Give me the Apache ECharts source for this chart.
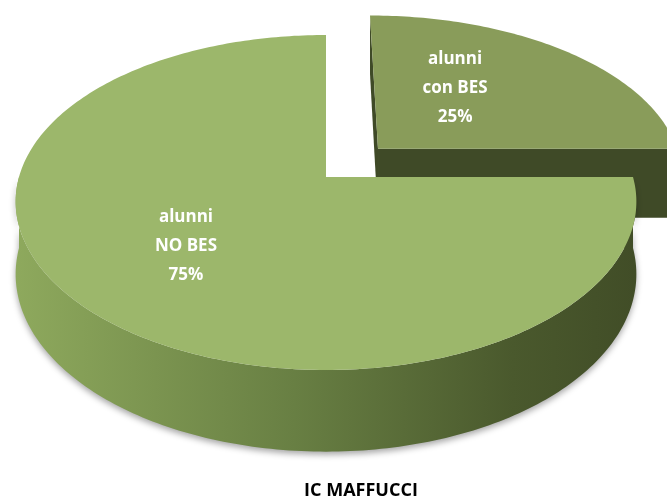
<!DOCTYPE html>
<html>
<head>
<meta charset="utf-8">
<script src="https://cdn.jsdelivr.net/npm/echarts@6/dist/echarts.min.js"></script>
<style>
  html, body { margin: 0; padding: 0; background: #fff; }
  #main { width: 667px; height: 504px; }
</style>
</head>
<body>
<div id="main"></div>
<script>
// dati
const categories = ['alunni\ncon BES', 'alunni\nNO BES'];
const values = [25, 75];
const chartTitle = 'IC MAFFUCCI';

// geometria della torta "3D" (px)
const CX = 326, CY = 177, RX = 307, H = 71;
const UP_A = 167.5, UP_B = -25.5, PERSP = 0.15;
const START_ANGLE = 90;
const explode = [0.246, 0];
const labelPlace = [[10, 0.5], [-3, 0.58]]; // [spostamento angolo, raggio]
const topColors = ['#899c5a', '#9cb76b'];
const cutColor = '#3f4a27';

// u: orizzontale, v: profondita (v>0 verso il fondo), d: 0 sopra, 1 sotto
function proj(u, v, d) {
  const s = 1 - PERSP * v;
  return [CX + RX * u * s, CY - (UP_A * v + UP_B * v * v) + H * s * d];
}

const total = values.reduce((a, b) => a + b, 0);

function renderItem(params, api) {
  const i = params.dataIndex;
  let before = 0;
  for (let k = 0; k < i; k++) before += values[k];
  const a1 = START_ANGLE - 360 * before / total;
  const a2 = a1 - 360 * values[i] / total;
  const midDeg = (a1 + a2) / 2;
  const mid = midDeg * Math.PI / 180;
  const ou = explode[i] * Math.cos(mid), ov = explode[i] * Math.sin(mid);
  const pt = (r, deg, d) => {
    const t = deg * Math.PI / 180;
    return proj(ou + r * Math.cos(t), ov + r * Math.sin(t), d);
  };
  const n = Math.max(2, Math.ceil(a1 - a2));
  const angles = [];
  for (let k = 0; k <= n; k++) angles.push(a1 - (a1 - a2) * k / n);

  const base = 100 - Math.round(ov * 100);
  const children = [];

  // facce di taglio
  [a1, a2].forEach(phi => {
    children.push({
      type: 'polygon',
      z2: base,
      shape: { points: [pt(0, phi, 0), pt(1, phi, 0), pt(1, phi, 1), pt(0, phi, 1)] },
      style: { fill: cutColor }
    });
  });

  // lato curvo visibile (parte anteriore)
  let run = [];
  const runs = [];
  angles.forEach(a => {
    if (Math.sin(a * Math.PI / 180) <= 1e-6) {
      run.push(a);
    } else if (run.length) {
      runs.push(run); run = [];
    }
  });
  if (run.length) runs.push(run);
  runs.forEach(r => {
    if (r.length < 2) return;
    const pts = r.map(a => pt(1, a, 0)).concat(r.slice().reverse().map(a => pt(1, a, 1)));
    children.push({
      type: 'polygon',
      z2: base + 1,
      shape: { points: pts },
      style: {
        fill: {
          type: 'linear', x: 0, y: 0, x2: 1, y2: 0,
          colorStops: [
            { offset: 0, color: '#8ea95d' },
            { offset: 0.45, color: '#687f43' },
            { offset: 0.8, color: '#4a592d' },
            { offset: 1, color: '#414d27' }
          ]
        },
        shadowBlur: 6,
        shadowOffsetY: 3,
        shadowColor: 'rgba(0,0,0,0.35)'
      }
    });
  });

  // faccia superiore
  const topPts = [pt(0, a1, 0)].concat(angles.map(a => pt(1, a, 0)));
  children.push({
    type: 'polygon',
    z2: base + 2,
    shape: { points: topPts },
    style: { fill: topColors[i] }
  });

  // etichetta
  const lp = pt(labelPlace[i][1], midDeg + labelPlace[i][0], 0);
  children.push({
    type: 'text',
    z2: 300,
    x: lp[0],
    y: lp[1],
    style: {
      text: categories[i] + '\n' + Math.round(values[i] / total * 100) + '%',
      fill: '#ffffff',
      fontFamily: 'Open Sans',
      fontWeight: 'bold',
      fontSize: 17,
      lineHeight: 29,
      align: 'center',
      verticalAlign: 'middle'
    }
  });

  return { type: 'group', children: children };
}

const chart = echarts.init(document.getElementById('main'));
chart.setOption({
  animation: false,
  title: {
    text: chartTitle,
    left: 356,
    top: 477,
    textAlign: 'center',
    textStyle: { color: '#000', fontFamily: 'Open Sans', fontWeight: 'bold', fontSize: 18 }
  },
  series: [{
    type: 'custom',
    coordinateSystem: 'none',
    silent: true,
    renderItem: renderItem,
    data: values.map((v, i) => ({ name: categories[i], value: v }))
  }]
});
</script>
</body>
</html>
